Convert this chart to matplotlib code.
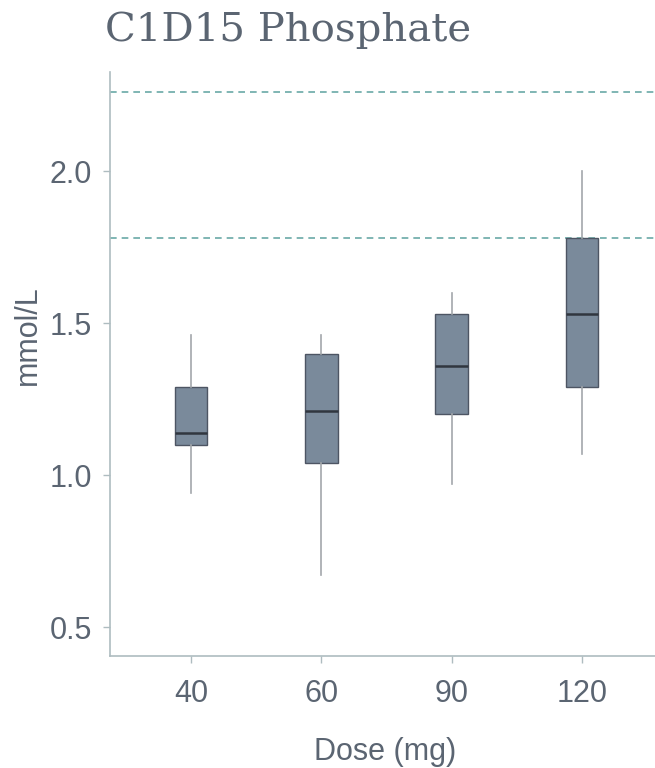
import matplotlib
matplotlib.use("Agg")
import matplotlib.pyplot as plt

# dose groups and box statistics
doses = ["40", "60", "90", "120"]
whisker_low = [0.94, 0.67, 0.97, 1.07]
q1 = [1.10, 1.04, 1.20, 1.29]
median = [1.14, 1.21, 1.36, 1.53]
q3 = [1.29, 1.40, 1.53, 1.78]
whisker_high = [1.46, 1.46, 1.60, 2.00]

# reference range lines
ref_lines = [2.26, 1.78]

text_col = "#5b6572"
spine_col = "#aebcc0"

plt.rcParams["font.family"] = ["Liberation Sans", "DejaVu Sans"]

fig = plt.figure(figsize=(6.55, 7.68), dpi=100)
ax = fig.add_axes([0.168, 0.146, 0.84, 0.76])

stats = []
for i, d in enumerate(doses):
    stats.append({
        "label": d,
        "whislo": whisker_low[i],
        "q1": q1[i],
        "med": median[i],
        "q3": q3[i],
        "whishi": whisker_high[i],
        "fliers": [],
    })

for y in ref_lines:
    ax.axhline(y, color="#6aa9a7", lw=1.2, ls=(0, (4, 3)), zorder=1)

ax.bxp(
    stats,
    positions=range(len(doses)),
    widths=0.25,
    patch_artist=True,
    showcaps=False,
    boxprops=dict(facecolor="#7a8a9b", edgecolor="#4d5563", lw=1.0),
    medianprops=dict(color="#30363f", lw=1.8),
    whiskerprops=dict(color="#a3a7ab", lw=1.2),
    zorder=2,
)

ax.set_xlim(-0.62, 3.6)
ax.set_ylim(0.405, 2.326)
ax.set_yticks([0.5, 1.0, 1.5, 2.0])
ax.set_yticklabels(["0.5", "1.0", "1.5", "2.0"])

for s in ["top", "right"]:
    ax.spines[s].set_visible(False)
for s in ["left", "bottom"]:
    ax.spines[s].set_color(spine_col)
    ax.spines[s].set_linewidth(1.2)

ax.tick_params(axis="both", colors=spine_col, labelcolor=text_col,
               labelsize=22, length=5, width=1)
ax.tick_params(axis="x", pad=12)
ax.tick_params(axis="y", pad=8)

ax.set_xlabel("Dose (mg)", fontsize=22, color=text_col, labelpad=20)
ax.set_ylabel("mmol/L", fontsize=22, color=text_col)
ax.yaxis.set_label_coords(-0.122, 0.55)

fig.text(0.16, 0.96, "C1D15 Phosphate", fontsize=29, color=text_col,
         family=["DejaVu Serif"], va="center", ha="left")

fig.savefig("out.png", dpi=100)
